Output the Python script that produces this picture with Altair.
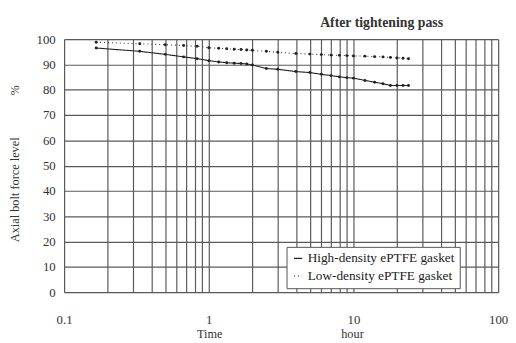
import altair as alt
import pandas as pd

hours = [1/6, 1/3, 0.5, 0.67, 0.83, 1.0, 1.17, 1.33, 1.5, 1.67, 1.83, 2.0, 2.5, 3.0,
         4.0, 5.0, 6.0, 7.0, 8.0, 9.0, 10.0, 12.0, 14.0, 16.0, 18.0, 20.0, 22.0, 24.0]
high_density = [96.5, 95.2, 94.0, 93.0, 92.3, 91.5, 91.0, 90.7, 90.5, 90.4, 90.2, 89.8, 88.4, 88.1,
                87.2, 86.8, 86.1, 85.6, 85.1, 84.8, 84.6, 83.7, 83.0, 82.4, 81.7, 81.7, 81.7, 81.7]
low_density = [98.8, 98.2, 97.8, 97.5, 97.2, 96.6, 96.4, 96.2, 96.0, 95.9, 95.7, 95.6, 95.2, 94.8,
               94.3, 94.1, 93.9, 93.7, 93.6, 93.5, 93.4, 93.3, 93.1, 93.0, 92.8, 92.6, 92.5, 92.3]
series_names = ["High-density ePTFE gasket", "Low-density ePTFE gasket"]
y_ticks = list(range(0, 101, 10))
grid_x = [m * 10 ** e for e in (-1, 0, 1) for m in range(1, 10)] + [100]

rows = []
for h, v in zip(hours, high_density):
    rows.append({"t": h, "v": v, "s": series_names[0]})
for h, v in zip(hours, low_density):
    rows.append({"t": h, "v": v, "s": series_names[1]})
df = pd.DataFrame(rows)

FONT = "Liberation Serif"
W, H = 441, 257

xscale = alt.Scale(type="log", domain=[0.1, 100], nice=False)
yscale = alt.Scale(domain=[0, 100], nice=False)

xaxis = alt.Axis(values=grid_x, grid=True, gridColor="#5a5a5a", gridWidth=1.2, gridOpacity=1,
                 labelExpr="abs(log(datum.value)/LN10 - round(log(datum.value)/LN10)) < 0.001 ? format(datum.value, '~g') : ''",
                 labelFont=FONT, labelFontSize=13, labelColor="#333", labelPadding=22,
                 ticks=False, domain=False, title=None, labelFlush=False, labelOverlap=False)
yaxis = alt.Axis(values=y_ticks, grid=True, gridColor="#5a5a5a", gridWidth=1.2, gridOpacity=1,
                 labelFont=FONT, labelFontSize=13, labelColor="#333", labelPadding=9,
                 ticks=False, domain=False, title=None, labelOverlap=False)

leg = dict(title=None, orient="none", legendX=226, legendY=211,
           fillColor="white", strokeColor="#555", padding=5,
           labelFont=FONT, labelFontSize=13.5, labelColor="#222",
           symbolType="stroke", symbolSize=70, symbolStrokeWidth=1.2,
           rowPadding=3, labelOffset=3)

base = alt.Chart(df)
lines = base.mark_line(strokeWidth=1.1).encode(
    x=alt.X("t:Q", scale=xscale, axis=xaxis),
    y=alt.Y("v:Q", scale=yscale, axis=yaxis),
    color=alt.Color("s:N", scale=alt.Scale(domain=series_names, range=["#222", "#333"]),
                    legend=alt.Legend(**leg)),
    strokeDash=alt.StrokeDash("s:N", scale=alt.Scale(domain=series_names, range=[[1, 0], [1, 3]]),
                              legend=alt.Legend(**leg)),
)
points = base.mark_point(filled=True, size=9, opacity=1).encode(
    x=alt.X("t:Q", scale=xscale, axis=xaxis),
    y=alt.Y("v:Q", scale=yscale, axis=yaxis),
    color=alt.value("#222"),
)

def txt(s, **kw):
    return alt.Chart(pd.DataFrame({"a": [0]})).mark_text(text=s, font=FONT, color="#333", **kw)

title = txt("After tightening pass", fontSize=14, fontWeight="bold", align="right", baseline="middle").encode(
    x=alt.value(385), y=alt.value(-16))
ytitle = txt("Axial bolt force level", fontSize=12.5, angle=270, align="center", baseline="middle").encode(
    x=alt.value(-50), y=alt.value(153))
pct = txt("%", fontSize=12, angle=270, align="center", baseline="middle").encode(
    x=alt.value(-50), y=alt.value(52))
time_t = txt("Time", fontSize=12.5, align="center", baseline="alphabetic").encode(
    x=alt.value(148), y=alt.value(304))
hour_t = txt("hour", fontSize=12.5, align="center", baseline="alphabetic").encode(
    x=alt.value(293), y=alt.value(304))

chart = alt.layer(lines, points, title, ytitle, pct, time_t, hour_t).properties(
    width=W, height=H,
    autosize=alt.AutoSizeParams(type="none"),
    padding={"left": 57, "top": 29, "right": 10, "bottom": 49},
).configure_view(stroke="#555", strokeWidth=1.2).configure(background="white")

chart.save("out.html", embed_options={"renderer": "svg", "actions": False})
